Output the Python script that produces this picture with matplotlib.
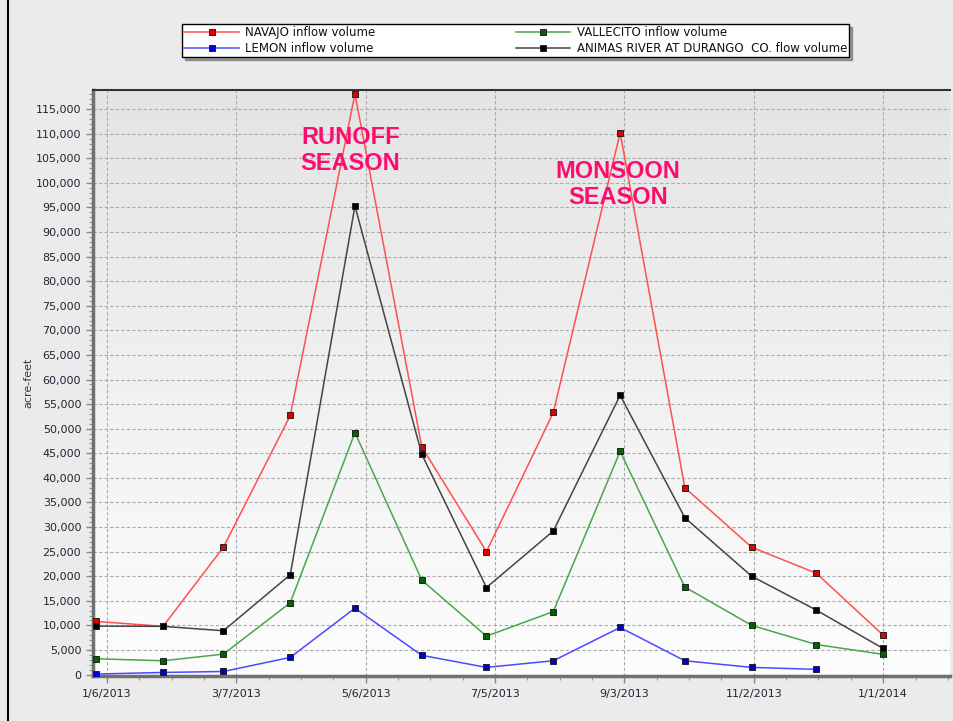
import numpy as np
import pandas as pd
import matplotlib
matplotlib.use("Agg")
import matplotlib.pyplot as plt
import matplotlib.dates as mdates
from matplotlib.ticker import FuncFormatter, MultipleLocator
from matplotlib.lines import Line2D
from matplotlib.colors import LinearSegmentedColormap

# ---- data ----
months = pd.date_range("2013-01-01", "2014-01-01", freq="MS")
navajo = [10800, 9800, 25900, 52700, 118100, 46300, 25000, 53300, 110200, 38000, 25900, 20600, 8000]
vallecito = [3200, 2800, 4150, 14600, 49200, 19200, 7800, 12800, 45400, 17800, 10000, 6100, 4100]
lemon = [100, 420, 620, 3480, 13500, 3900, 1450, 2800, 9570, 2800, 1450, 1050, np.nan]
animas = [9850, 9800, 8900, 20300, 95300, 44800, 17700, 29200, 56800, 31900, 20000, 13100, 5300]

series_names = ["NAVAJO inflow volume", "VALLECITO inflow volume",
                "LEMON inflow volume", "ANIMAS RIVER AT DURANGO  CO. flow volume"]
tick_dates = pd.date_range("2013-01-06", periods=7, freq="60D")

W, H = 954, 721
fig = plt.figure(figsize=(W / 100, H / 100), dpi=100)
fig.patch.set_facecolor("#ebebeb")
fig.add_artist(Line2D([8 / W, 8 / W], [0, 1], color="black", lw=1.5, transform=fig.transFigure))

ax = fig.add_axes([93 / W, 1 - 676 / H, (950 - 93) / W, (676 - 90) / H])

grad = np.linspace(0, 1, 256).reshape(-1, 1)
cmap = LinearSegmentedColormap.from_list("g", ["#fdfdfd", "#e4e4e4"])
ax.imshow(grad, extent=[0, 1, 0, 1], transform=ax.transAxes, cmap=cmap,
          aspect="auto", origin="lower", zorder=0)

styles = [
    (navajo, "#ff5050", "#e00000"),
    (vallecito, "#4aa64a", "#006400"),
    (lemon, "#4a4aff", "#0000d0"),
    (animas, "#444444", "#000000"),
]
handles = []
for (vals, lc, mc), name in zip(styles, series_names):
    h, = ax.plot(months, vals, color=lc, lw=1.1, marker="s", markersize=5,
                 markerfacecolor=mc, markeredgecolor="#222222", markeredgewidth=0.7,
                 label=name, zorder=3)
    handles.append(h)

ax.set_xticks(tick_dates)
ax.xaxis.set_major_formatter(FuncFormatter(
    lambda x, p: (lambda d: f"{d.month}/{d.day}/{d.year}")(mdates.num2date(x))))
ax.set_xticks(pd.date_range("2012-12-22", "2014-02-01", freq="15D"), minor=True)
ax.yaxis.set_major_locator(MultipleLocator(5000))
ax.yaxis.set_minor_locator(MultipleLocator(1000))
ax.yaxis.set_major_formatter(FuncFormatter(lambda v, p: f"{int(v):,}"))
ax.set_xlim(pd.Timestamp("2012-12-30 12:00"), pd.Timestamp("2014-02-01"))
ax.set_ylim(-300, 118900)

ax.tick_params(axis="both", which="major", direction="out", length=5, width=1,
               color="#888888", labelsize=8, labelcolor="#222233")
ax.tick_params(axis="both", which="minor", direction="out", length=3, width=0.8,
               color="#999999")
ax.tick_params(axis="x", pad=4)

ax.grid(True, which="major", color="#aaaaaa", linestyle=(0, (3, 2)), lw=0.8)
ax.set_axisbelow(True)
for g in ax.get_xgridlines() + ax.get_ygridlines():
    g.set_zorder(1)

for s in ["left", "bottom"]:
    ax.spines[s].set_color("#707070")
    ax.spines[s].set_linewidth(2.5)
ax.spines["top"].set_color("#333333")
ax.spines["top"].set_linewidth(1.5)
ax.spines["right"].set_visible(False)

ax.set_ylabel("acre-feet", fontsize=8, color="#333344", labelpad=2)

ax.text(pd.Timestamp("2013-04-29"), 106600, "RUNOFF\nSEASON", ha="center", va="center",
        fontsize=17, fontweight="bold", color="#ff0a6e", family="Liberation Sans",
        linespacing=1.15, zorder=4)
ax.text(pd.Timestamp("2013-08-31"), 99700, "MONSOON\nSEASON", ha="center", va="center",
        fontsize=17, fontweight="bold", color="#ff0a6e", family="Liberation Sans",
        linespacing=1.15, zorder=4)

order = [0, 2, 1, 3]
leg = fig.legend([handles[i] for i in order], [series_names[i] for i in order],
                 loc="upper left", bbox_to_anchor=(182 / W, 1 - 24 / H), ncol=2,
                 fontsize=8.5, frameon=True, fancybox=False, shadow=True,
                 edgecolor="black", handlelength=4.6, handletextpad=0.55,
                 columnspacing=11.9, borderpad=0.2, labelspacing=0.2,
                 borderaxespad=0)
leg.get_frame().set_linewidth(1.0)
leg.get_frame().set_facecolor("white")
for t in leg.get_texts():
    t.set_color("#111111")

fig.savefig("out.png", dpi=100, facecolor=fig.get_facecolor())
